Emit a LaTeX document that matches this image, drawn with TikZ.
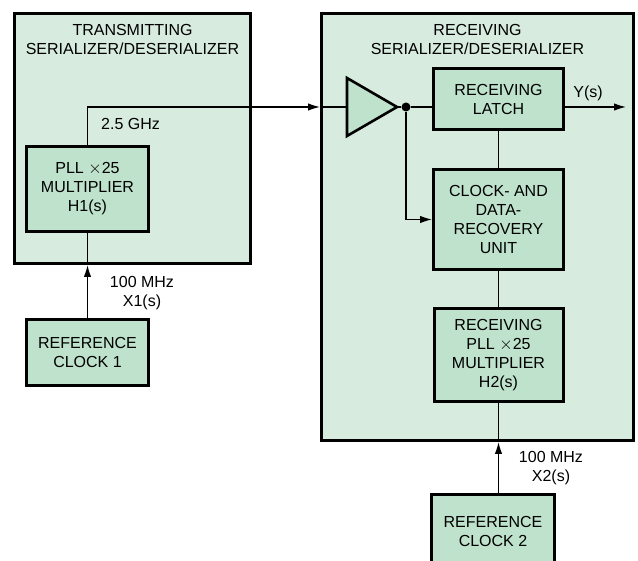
\documentclass[tikz,border=0pt]{standalone}
\usepackage{fontspec}
\setmainfont{Liberation Sans}
\usetikzlibrary{arrows.meta}
\definecolor{outerfill}{RGB}{215,236,223}
\definecolor{innerfill}{RGB}{190,226,204}
\newcommand{\mytimes}{\ensuremath{\times}}
\begin{document}
\begin{tikzpicture}[x=1pt,y=-1pt,
  font=\fontsize{16}{19}\selectfont,
  bigbox/.style={draw, line width=3pt, fill=outerfill, inner sep=0pt},
  blk/.style={draw, line width=3pt, fill=innerfill, align=center, inner sep=0pt},
  conn/.style={line width=1.3pt},
  arr/.style={line width=1.3pt, -{Latex[length=12pt,width=7.5pt]}},
  lbl/.style={align=center, inner sep=0pt}]
\useasboundingbox (0,0) rectangle (638,561);
% containers
\node[bigbox, minimum width=236pt, minimum height=250pt] (tx) at (132.5,138.5) {};
\node[bigbox, minimum width=312pt, minimum height=427pt] (rx) at (477.5,227) {};
\node[lbl] (txtitle) at (132.5,39.5) {TRANSMITTING\\SERIALIZER/DESERIALIZER};
\node[lbl] (rxtitle) at (477.5,39.5) {RECEIVING\\SERIALIZER/DESERIALIZER};
% blocks
\node[blk, minimum width=122pt, minimum height=85pt] (pll1) at (87.5,189) {PLL \mytimes25\\MULTIPLIER\\H1(s)};
\node[blk, minimum width=122pt, minimum height=66pt] (ref1) at (87.5,352.5) {REFERENCE\\CLOCK 1};
\node[blk, minimum width=130pt, minimum height=61pt] (latch) at (498.5,99) {RECEIVING\\LATCH};
\node[blk, minimum width=130pt, minimum height=100pt] (cdr) at (498.5,219.5) {CLOCK- AND\\DATA-\\RECOVERY\\UNIT};
\node[blk, minimum width=129pt, minimum height=93pt] (rxpll) at (498.5,355) {RECEIVING\\PLL \mytimes25\\MULTIPLIER\\H2(s)};
\node[blk, minimum width=123pt, minimum height=72pt] (ref2) at (493,531) {REFERENCE\\CLOCK 2};
% amplifier
\coordinate (ampin) at (347,107);
\coordinate (ampout) at (397,107);
\draw[line width=2.6pt, fill=innerfill, line join=miter] (347,78) -- (ampout) -- (347,136) -- cycle;
\node[circle, fill=black, inner sep=0pt, minimum size=9pt] (dot) at (406,107) {};
\coordinate (yout) at (626,107);
% connectors
\draw[arr] (pll1.north) |- (ampin -| rx.west);
\draw[conn] (ampin -| rx.west) -- (ampin);
\draw[conn] (ampout) -- (dot) -- (dot -| latch.west);
\draw[arr] (dot -| latch.east) -- (yout);
\draw[arr] (dot) |- (cdr.west);
\draw[conn] (latch.south) -- (cdr.north);
\draw[conn] (cdr.south) -- (rxpll.north);
\draw[arr] (rxpll.south |- ref2.north) -- (rxpll.south |- rx.south);
\draw[conn] (rxpll.south |- rx.south) -- (rxpll.south);
\draw[arr] (ref1.north) -- (pll1.south |- tx.south);
\draw[conn] (pll1.south |- tx.south) -- (pll1.south);
% labels
\node[lbl, anchor=west] (ghz) at (101,124) {2.5 GHz};
\node[lbl] (ys) at (588,93) {Y(s)};
\node[lbl] (f1) at (142,293) {100 MHz\\X1(s)};
\node[lbl] (f2) at (551,468) {100 MHz\\X2(s)};
\end{tikzpicture}
\end{document}
